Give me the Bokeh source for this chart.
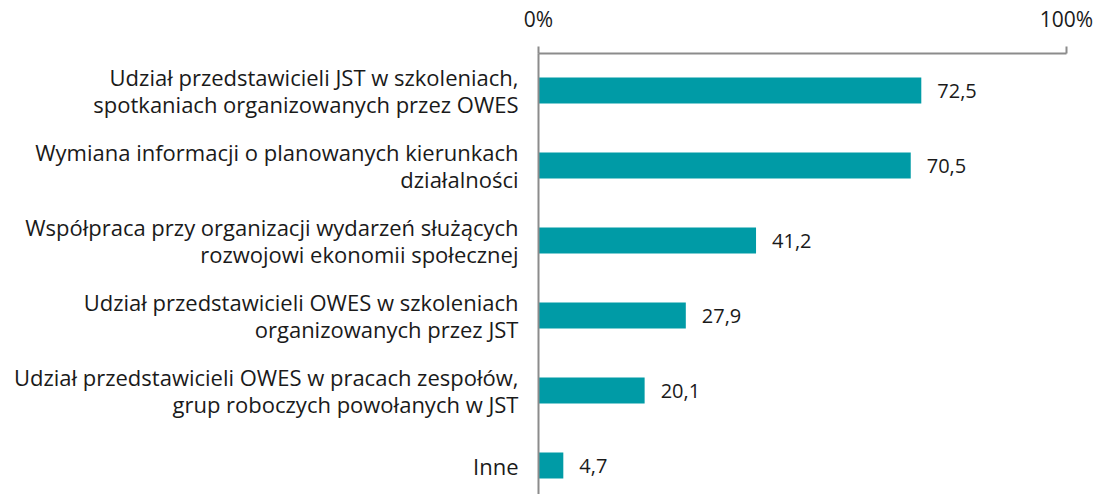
from bokeh.plotting import figure
from bokeh.models import Range1d, FixedTicker, LinearAxis, ColumnDataSource
from bokeh.core.properties import value
from bokeh.embed import file_html
from bokeh.resources import INLINE

categories = [
    "Udział przedstawicieli JST w szkoleniach,\nspotkaniach organizowanych przez OWES",
    "Wymiana informacji o planowanych kierunkach\ndziałalności",
    "Współpraca przy organizacji wydarzeń służących\nrozwojowi ekonomii społecznej",
    "Udział przedstawicieli OWES w szkoleniach\norganizowanych przez JST",
    "Udział przedstawicieli OWES w pracach zespołów,\ngrup roboczych powołanych w JST",
    "Inne",
]
values = [72.5, 70.5, 41.2, 27.9, 20.1, 4.7]
value_labels = ["72,5", "70,5", "41,2", "27,9", "20,1", "4,7"]
x_ticks = [0, 100]
x_tick_labels = ["0%", "100%"]

FONT = "Open Sans"
BAR = "#009ba6"
AXIS = "#8c8c8c"

pos = list(range(len(categories)))
src = ColumnDataSource(dict(y=pos, v=values, lab=value_labels))

W, H = 1094, 494
TOP = 53
C0 = 90
STEP = 75
p = figure(width=W, height=H, output_backend="svg", toolbar_location=None,
           x_range=Range1d(0, 100),
           y_range=Range1d((H - C0) / STEP, -(C0 - TOP) / STEP),
           x_axis_location=None, y_axis_location=None,
           min_border_left=538, min_border_right=28, min_border_top=TOP, min_border_bottom=0)
p.outline_line_color = None
p.xgrid.visible = False
p.ygrid.visible = False
p.background_fill_color = "white"
p.border_fill_color = "white"

p.hbar(y="y", right="v", left=0, height=26 / STEP, source=src, fill_color=BAR, line_color=None)
p.text(x="v", y="y", text="lab", source=src, x_offset=16, text_baseline="middle", text_align="left",
       text_font=value(FONT), text_font_size="20px", text_color="#1a1a1a")

xa = LinearAxis(ticker=FixedTicker(ticks=x_ticks),
                major_label_overrides={t: l for t, l in zip(x_ticks, x_tick_labels)})
xa.axis_line_color = AXIS
xa.axis_line_width = 2
xa.major_tick_line_color = AXIS
xa.major_tick_line_width = 2
xa.major_tick_out = 7
xa.major_tick_in = 0
xa.minor_tick_line_color = None
xa.major_label_standoff = 14
xa.major_label_text_font = FONT
xa.major_label_text_font_size = "21px"
xa.major_label_text_color = "#1a1a1a"
p.add_layout(xa, "above")

ya = LinearAxis(ticker=FixedTicker(ticks=pos),
                major_label_overrides={i: c for i, c in enumerate(categories)})
ya.axis_line_color = AXIS
ya.axis_line_width = 2
ya.major_tick_line_color = None
ya.minor_tick_line_color = None
ya.major_tick_out = 0
ya.major_tick_in = 0
ya.major_label_standoff = 20
ya.major_label_text_font = FONT
ya.major_label_text_font_size = "22px"
ya.major_label_text_color = "#1a1a1a"
ya.major_label_text_align = "right"
ya.major_label_text_line_height = 0.9
p.add_layout(ya, "left")

open("out.html", "w").write(file_html(p, INLINE))
